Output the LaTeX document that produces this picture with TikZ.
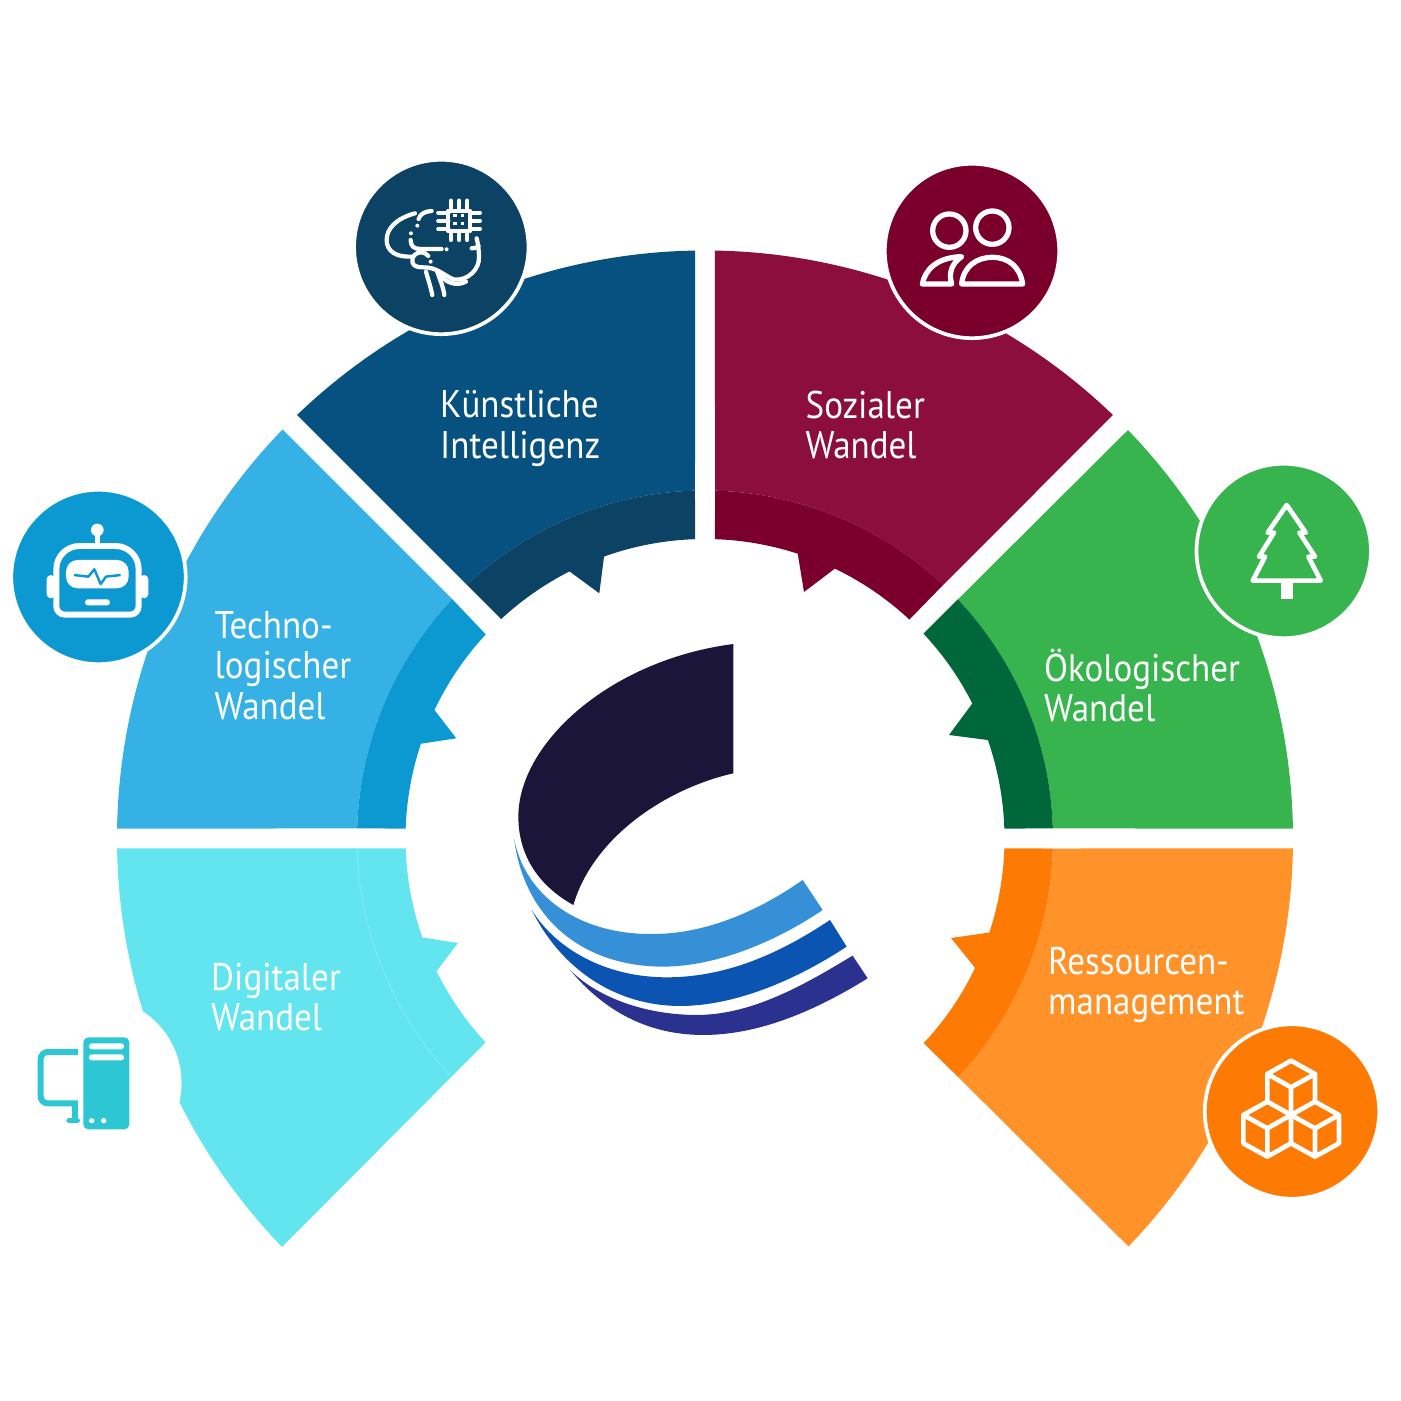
\documentclass[tikz,border=0pt]{standalone}
\usepackage{fontspec}
\setmainfont{PT Sans}[FakeStretch=0.91]
\tikzset{
  seglabel/.style={text=white,align=left,anchor=west,inner sep=0pt,font=\fontsize{10.95}{11.52}\selectfont},
  iconcircle/.style={circle,draw=white,line width=0.037cm,minimum size=1.743cm,inner sep=0pt},
  zoomed/.style 2 args={scale=0.3333,yscale=-1,shift={(#1,#2)}},
  iconline/.style={draw=white,line cap=round,line join=round,line width=#1}
}
\begin{document}
\begin{tikzpicture}[x=0.01cm,y=0.01cm]
\definecolor{kibase}{HTML}{06517F}
\definecolor{kiring}{HTML}{0C4263}
\definecolor{techbase}{HTML}{35B1E5}
\definecolor{techring}{HTML}{0C99D1}
\definecolor{digibase}{HTML}{62E5EF}
\definecolor{digiicon}{HTML}{2DC7D3}
\definecolor{socbase}{HTML}{8C0E3C}
\definecolor{socring}{HTML}{7A002B}
\definecolor{ecobase}{HTML}{38B44F}
\definecolor{ecoring}{HTML}{00673A}
\definecolor{resbase}{HTML}{FF9229}
\definecolor{resring}{HTML}{FD7B04}
\definecolor{logodark}{HTML}{1B1539}
\definecolor{logolight}{HTML}{3590D8}
\definecolor{logomid}{HTML}{0B54B1}
\definecolor{logonavy}{HTML}{2A318E}

\useasboundingbox (-705,-562.5) rectangle (696,838.5);

\path[fill=kibase] (90.97:588) arc[start angle=90.97,end angle=133.93,radius=588] -- (133.19:348) arc[start angle=133.19,end angle=91.65,radius=348] -- cycle;
\path[fill=kiring] (91.65:348) arc[start angle=91.65,end angle=133.19,radius=348] -- (132.9:299.5) arc[start angle=132.9,end angle=116.9,radius=299.5] -- (-105.7,245.2) -- (109.7:299.5) arc[start angle=109.7,end angle=91.91,radius=299.5] -- cycle;

\path[fill=techbase] (179.03:588) arc[start angle=179.03,end angle=135.93,radius=588] -- (136.56:348) arc[start angle=136.56,end angle=178.35,radius=348] -- cycle;
\path[fill=techring] (136.56:348) arc[start angle=136.56,end angle=178.35,radius=348] -- (178.09:299.5) arc[start angle=178.09,end angle=161.56,radius=299.5] -- (-248.7,100.2) -- (154.6:299.5) arc[start angle=154.6,end angle=137.05,radius=299.5] -- cycle;

\path[fill=digibase] (180.97:588) arc[start angle=180.97,end angle=224,radius=588] -- (222.9:299.5) arc[start angle=222.9,end angle=206.3,radius=299.5] -- (-247,-104.5) -- (199.3:299.5) arc[start angle=199.3,end angle=181.91,radius=299.5] -- cycle;
\draw[white!30!digibase,line width=0.15pt] (181.65:348) arc[start angle=181.65,end angle=223.3,radius=348];

\path[fill=socbase] (89.03:588) arc[start angle=89.03,end angle=46.07,radius=588] -- (46.8:348) arc[start angle=46.8,end angle=88.35,radius=348] -- cycle;
\path[fill=socring] (88.35:348) arc[start angle=88.35,end angle=46.8,radius=348] -- (46.96:299.5) arc[start angle=46.96,end angle=64.3,radius=299.5] -- (99,246.5) -- (71.96:299.5) arc[start angle=71.96,end angle=88.09,radius=299.5] -- cycle;

\path[fill=ecobase] (0.97:588) arc[start angle=0.97,end angle=44,radius=588] -- (43.4:348) arc[start angle=43.4,end angle=1.65,radius=348] -- cycle;
\path[fill=ecoring] (43.4:348) arc[start angle=43.4,end angle=1.65,radius=348] -- (1.91:299.5) arc[start angle=1.91,end angle=19.2,radius=299.5] -- (244,103.5) -- (26.8:299.5) arc[start angle=26.8,end angle=43.17,radius=299.5] -- cycle;

\path[fill=resbase] (-0.97:588) arc[start angle=-0.97,end angle=-43.93,radius=588] -- (-43.3:348) arc[start angle=-43.3,end angle=-1.65,radius=348] -- cycle;
\path[fill=resring] (-1.65:348) arc[start angle=-1.65,end angle=-43.3,radius=348] -- (-43.1:299.5) arc[start angle=-43.1,end angle=-25.6,radius=299.5] -- (246,-99.5) -- (-18.3:299.5) arc[start angle=-18.3,end angle=-1.91,radius=299.5] -- cycle;

\node[seglabel] (ki) at (-265.5,410) {Künstliche\\Intelligenz};
\node[seglabel] (tech) at (-491,173) {Techno-\\logischer\\Wandel};
\node[seglabel] (digi) at (-494.5,-158.5) {Digitaler\\Wandel};
\node[seglabel] (soc) at (100,413.5) {Sozialer\\Wandel};
\node[seglabel] (eco) at (338.5,153) {Ökologischer\\Wandel};
\node[seglabel] (res) at (342.5,-146.5) {Ressourcen-\\management};

\node[iconcircle,fill=kiring] (brain) at (-263.7,591.5) {};
\node[iconcircle,fill=techring] (robot) at (-606.5,261.5) {};
\node[circle,fill=white,minimum size=1.71cm,inner sep=0pt] (screen) at (-609,-244.5) {};
\node[iconcircle,fill=socring] (people) at (267,587.5) {};
\node[iconcircle,fill=ecobase] (tree) at (578.7,287.5) {};
\node[iconcircle,fill=resring] (cubes) at (587,-273) {};

\begin{scope}[shift={(brain)},zoomed={-304}{-291}]
\draw[iconline=1.2pt] (325,183) rectangle (391,243);
\foreach \a in {333,358,382} {
  \draw[iconline=1.2pt] (\a,152) -- (\a,183);
  \draw[iconline=1.2pt] (\a,243) -- (\a,270);
}
\foreach \a in {188,212,237} {
  \draw[iconline=1.2pt] (295,\a) -- (325,\a);
  \draw[iconline=1.2pt] (391,\a) -- (420,\a);
}
\foreach \a in {345,368} \foreach \b in {197,220} \fill[white] (\a-5,\b-5) rectangle (\a+5,\b+5);
\draw[iconline=1.2pt] (225,190) .. controls (170,205) and (140,235) .. (140,270) .. controls (140,305) and (170,322) .. (215,320);
\draw[iconline=1.2pt] (236,207) .. controls (240,192) and (255,184) .. (275,183);
\fill[white] (232,227) circle (6) (213,250) circle (6) (320,298) circle (6) (272,335) circle (6);
\draw[iconline=1.2pt] (212,270) .. controls (212,288) and (222,297) .. (240,297) -- (305,297);
\draw[iconline=1.2pt] (265,318) .. controls (255,305) and (235,303) .. (224,315) .. controls (210,330) and (215,352) .. (245,352) .. controls (290,350) and (310,375) .. (340,388) .. controls (385,395) and (420,355) .. (417,320) .. controls (417,300) and (414,280) .. (410,265);
\draw[iconline=1.2pt] (395,295) .. controls (403,296) and (410,293) .. (416,288);
\draw[iconline=1.2pt] (258,365) .. controls (265,390) and (272,410) .. (277,435);
\draw[iconline=1.2pt] (292,365) .. controls (300,390) and (310,410) .. (313,435);
\draw[iconline=1.2pt] (292,365) .. controls (315,400) and (350,410) .. (378,395);
\end{scope}

\begin{scope}[shift={(robot)},zoomed={-295.5}{-291}]
\fill[white] (292,150) circle (19);
\draw[iconline=1.5pt] (292,165) -- (292,195);
\draw[iconline=1.7pt] (169,300) [rounded corners=6.6pt] -- (169,198) -- (416,198) [rounded corners=2.4pt] -- (416,404) -- (169,404) -- cycle;
\fill[white,rounded corners=1.2pt] (140,285) rectangle (165,355);
\fill[white,rounded corners=1.2pt] (420,285) rectangle (445,355);
\fill[white,rounded corners=3.3pt] (198,240) rectangle (386,325);
\draw[techring,line width=0.7pt,line join=round] (222,285) -- (265,290) -- (283,268) -- (302,312) -- (318,290) -- (362,285);
\fill[white,rounded corners=0.8pt] (255,358) rectangle (330,376);
\end{scope}

\begin{scope}[shift={(screen)},zoomed={-228}{-219}]
\fill[digiicon,rounded corners=1.4pt] (190,82) rectangle (328,358);
\fill[white,rounded corners=0.8pt] (207,100) rectangle (312,118);
\fill[white,rounded corners=0.8pt] (207,133) rectangle (312,151);
\fill[white] (215,332) circle (8) (251,332) circle (8);
\draw[digiicon,line width=1.7pt] (174,126) [rounded corners=2pt] -- (62,126) -- (62,280) [sharp corners] -- (165,280) -- (165,332);
\draw[digiicon,line width=1.5pt,line cap=round] (172,332) -- (147,332);
\end{scope}

\begin{scope}[shift={(people)},zoomed={-276}{-273}]
\draw[iconline=1.5pt] (208,212) circle (50);
\draw[iconline=1.5pt] (337,203) circle (50);
\draw[iconline=1.5pt] (245,372) .. controls (250,320) and (290,292) .. (337,292) .. controls (385,292) and (420,320) .. (428,372) -- cycle;
\draw[iconline=1.5pt] (127,372) .. controls (135,330) and (170,292) .. (245,290) .. controls (215,310) and (205,340) .. (215,372) -- cycle;
\end{scope}

\begin{scope}[shift={(tree)},zoomed={-281}{-273}]
\draw[iconline=1.33pt] (290,135) -- (347,218) -- (328,218) -- (375,290) -- (355,290) -- (392,362) -- (188,362) -- (225,290) -- (207,290) -- (252,218) -- (233,218) -- cycle;
\fill[white] (272,362) rectangle (308,416);
\end{scope}

\begin{scope}[shift={(cubes)},zoomed={-306}{-304.5}]
\draw[iconline=1.33pt] (303,152) -- (375,192) -- (375,275) -- (303,315) -- (232,275) -- (232,192) -- cycle;
\draw[iconline=1.33pt] (232,192) -- (303,232) -- (375,192) (303,232) -- (303,315);
\draw[iconline=1.33pt] (232,275) -- (160,315) -- (160,400) -- (232,440) -- (303,400) -- (303,315) -- (232,355) -- (160,315) (232,355) -- (232,440);
\draw[iconline=1.33pt] (375,275) -- (447,315) -- (447,400) -- (375,440) -- (303,400) (303,315) -- (375,355) -- (447,315) (375,355) -- (375,440);
\end{scope}

\begin{scope}[zoomed={-615}{-625.5}]
\fill[logodark] (700,42) -- (700,430) .. controls (500,475) and (280,620) .. (220,825) .. controls (120,770) and (55,680) .. (55,560) .. controls (55,340) and (330,90) .. (700,42) -- cycle;
\fill[logolight] (42,625) .. controls (75,800) and (240,915) .. (460,912) .. controls (620,912) and (780,840) .. (908,750) -- (968,840) .. controls (820,940) and (640,1012) .. (480,1010) .. controls (230,1005) and (70,850) .. (42,625) -- cycle;
\fill[logomid] (95,840) .. controls (170,960) and (320,1042) .. (500,1042) .. controls (680,1042) and (840,970) .. (990,870) -- (1040,950) .. controls (880,1055) and (700,1128) .. (540,1128) .. controls (360,1128) and (190,1030) .. (95,840) -- cycle;
\fill[logonavy] (210,1020) .. controls (300,1110) and (450,1155) .. (590,1155) .. controls (760,1155) and (920,1060) .. (1058,977) -- (1103,1045) .. controls (950,1140) and (780,1215) .. (610,1215) .. controls (440,1215) and (310,1140) .. (210,1020) -- cycle;
\end{scope}
\end{tikzpicture}
\end{document}
